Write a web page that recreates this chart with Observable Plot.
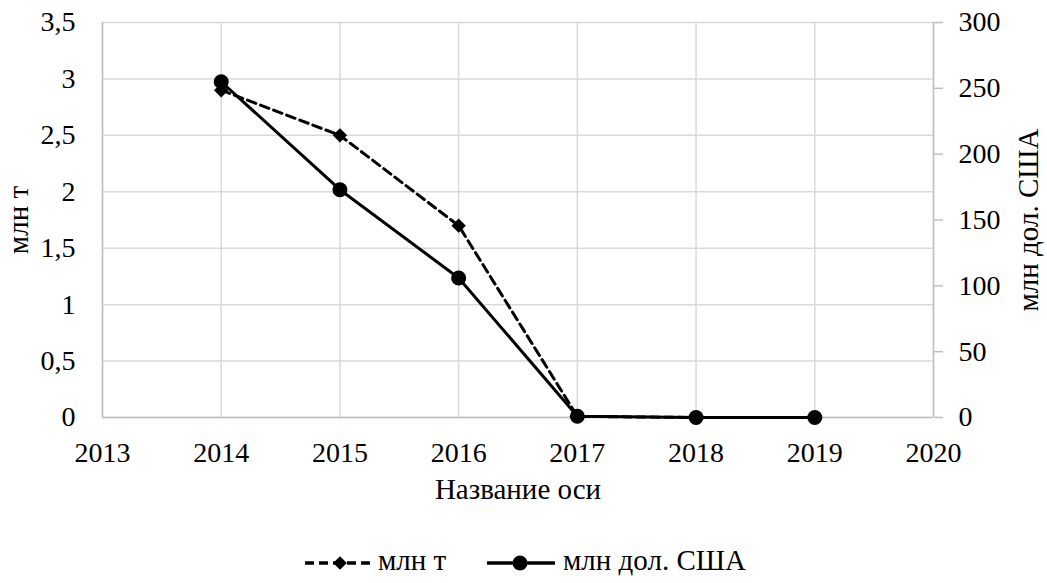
<!DOCTYPE html>
<html><head><meta charset="utf-8">
<script src="https://cdn.jsdelivr.net/npm/d3@7"></script>
<script src="https://cdn.jsdelivr.net/npm/@observablehq/plot@0.6"></script>
<style>
body{margin:0;background:#fff;font-family:Liberation Serif, Times New Roman, serif;}
#chart svg{display:block;}
</style>
</head><body><div id="chart"></div><script>
// ---- data ----
const years = [2014, 2015, 2016, 2017, 2018, 2019];
const tonnes = [2.9, 2.5, 1.7, 0.01, 0, 0];          // млн т (left axis)
const usd = [255, 173, 106, 1, 0, 0];                // млн дол. США (right axis)
const leftTicks = [0, 0.5, 1, 1.5, 2, 2.5, 3, 3.5];
const rightTicks = [0, 50, 100, 150, 200, 250, 300];
const xTicks = [2013, 2014, 2015, 2016, 2017, 2018, 2019, 2020];
const seriesNames = ["млн т", "млн дол. США"];
const xTitle = "Название оси";

const leftMax = 3.5, rightMax = 300;
const toLeft = v => v * leftMax / rightMax;
const tData = years.map((y, i) => ({year: y, value: tonnes[i]}));
const uData = years.map((y, i) => ({year: y, value: toLeft(usd[i])}));

const W = 1047, H = 536;
const grid = "#d9d9d9", axisCol = "#bfbfbf";
const FF = "Liberation Serif, Times New Roman, serif";

const chart = Plot.plot({
  width: W, height: H,
  marginLeft: 102, marginRight: 114, marginTop: 22, marginBottom: 119,
  style: {fontFamily: FF, fontSize: "28px", color: "#000", background: "#fff"},
  x: {domain: [2013, 2020], axis: null},
  y: {domain: [0, 3.5], axis: null},
  marks: [
    Plot.gridY(leftTicks, {stroke: grid, strokeOpacity: 1, strokeWidth: 1.5}),
    Plot.gridX(xTicks, {stroke: grid, strokeOpacity: 1, strokeWidth: 1.5}),
    Plot.ruleX([2013], {stroke: axisCol, strokeWidth: 1.5}),
    Plot.ruleX([2020], {stroke: axisCol, strokeWidth: 1.5}),
    Plot.ruleY([0], {stroke: axisCol, strokeWidth: 1.5}),
    Plot.axisY(leftTicks, {anchor: "left", tickSize: 0, tickPadding: 27, fontSize: 28,
      tickFormat: d => String(d).replace(".", ","), label: null}),
    Plot.axisY(rightTicks.map(toLeft), {anchor: "right", tickSize: 9, tickPadding: 16, fontSize: 28,
      stroke: axisCol, strokeWidth: 1.5,
      tickFormat: d => String(Math.round(d * rightMax / leftMax)), label: null}),
    Plot.axisX(xTicks, {anchor: "bottom", tickSize: 0, tickPadding: 25, fontSize: 28,
      tickFormat: d => String(d), label: null}),
    Plot.text([seriesNames[0]], {frameAnchor: "left", dx: -84, rotate: -90, textAnchor: "middle", fontSize: 29, text: d => d}),
    Plot.text([seriesNames[1]], {frameAnchor: "right", dx: 95, rotate: -90, textAnchor: "middle", fontSize: 29, text: d => d}),
    Plot.text([xTitle], {frameAnchor: "bottom", dy: 81, fontSize: 29, text: d => d}),
    Plot.line(tData, {x: "year", y: "value", stroke: "#000", strokeWidth: 3, strokeDasharray: "9,5"}),
    Plot.dot(tData, {x: "year", y: "value", symbol: "diamond2", r: 6.5, fill: "#000", stroke: "none"}),
    Plot.line(uData, {x: "year", y: "value", stroke: "#000", strokeWidth: 3}),
    Plot.dot(uData, {x: "year", y: "value", r: 7.5, fill: "#000", stroke: "none"})
  ]
});
document.getElementById("chart").appendChild(chart);

// ---- legend (below the plot) ----
const lg = d3.select("#chart").append("svg").attr("width", W).attr("height", 47);
const cy = 27;
const g1 = lg.append("g");
g1.append("line").attr("x1", 305).attr("x2", 373).attr("y1", cy).attr("y2", cy)
  .attr("stroke", "#000").attr("stroke-width", 3.5).attr("stroke-dasharray", "9,5");
g1.append("path").attr("d", d3.symbol(d3.symbolDiamond2, 120)()).attr("transform", `translate(340,${cy})`).attr("fill", "#000");
g1.append("text").attr("x", 378).attr("y", cy).attr("dy", "0.25em").attr("font-size", 29).text(seriesNames[0]);
const g2 = lg.append("g");
g2.append("line").attr("x1", 487).attr("x2", 555).attr("y1", cy).attr("y2", cy)
  .attr("stroke", "#000").attr("stroke-width", 3.5);
g2.append("circle").attr("cx", 520).attr("cy", cy).attr("r", 7.5).attr("fill", "#000");
g2.append("text").attr("x", 563).attr("y", cy).attr("dy", "0.25em").attr("font-size", 29).text(seriesNames[1]);
lg.selectAll("text").attr("font-family", FF);
</script></body></html>
